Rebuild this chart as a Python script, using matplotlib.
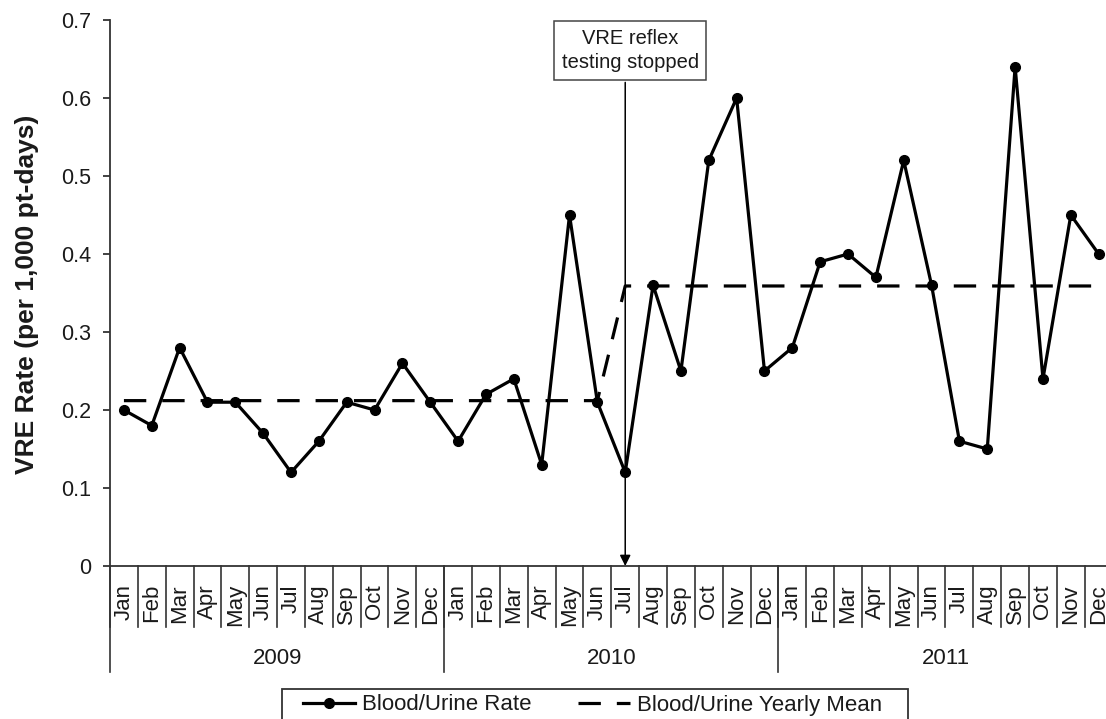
import matplotlib
matplotlib.use("Agg")
import matplotlib.pyplot as plt
from matplotlib.patches import Rectangle
from matplotlib.lines import Line2D
import matplotlib.transforms as mtransforms

plt.rcParams['font.family'] = ['Liberation Sans', 'DejaVu Sans']

months = ["Jan", "Feb", "Mar", "Apr", "May", "Jun",
          "Jul", "Aug", "Sep", "Oct", "Nov", "Dec"]
years = ["2009", "2010", "2011"]
month_labels = months * 3

rate = [0.20, 0.18, 0.28, 0.21, 0.21, 0.17, 0.12, 0.16, 0.21, 0.20, 0.26, 0.21,
        0.16, 0.22, 0.24, 0.13, 0.45, 0.21, 0.12, 0.36, 0.25, 0.52, 0.60, 0.25,
        0.28, 0.39, 0.40, 0.37, 0.52, 0.36, 0.16, 0.15, 0.64, 0.24, 0.45, 0.40]
yearly_mean = [0.212] * 18 + [0.359] * 18
yticks = [0, 0.1, 0.2, 0.3, 0.4, 0.5, 0.6, 0.7]
ytick_labels = ["0", "0.1", "0.2", "0.3", "0.4", "0.5", "0.6", "0.7"]
event_index = 18  # Jul 2010
event_label = "VRE reflex\ntesting stopped"

W, H = 1106, 719
fig = plt.figure(figsize=(W / 100, H / 100), dpi=100)
ax_left, ax_right, ax_bot, ax_top = 110, 1112.6, 566, 20
ax = fig.add_axes([ax_left / W, 1 - ax_bot / H, (ax_right - ax_left) / W, (ax_bot - ax_top) / H])

x = list(range(len(rate)))
ax.plot(x, yearly_mean, color='black', lw=2.3, dashes=(7, 5), zorder=2,
        label='Blood/Urine Yearly Mean')
ax.plot(x, rate, color='black', lw=2.3, marker='o', markersize=7, zorder=3,
        label='Blood/Urine Rate')

ax.set_xlim(-0.5, len(rate) - 0.5)
ax.set_ylim(0, 0.7)
for s in ['top', 'right']:
    ax.spines[s].set_visible(False)
for s in ['left', 'bottom']:
    ax.spines[s].set_linewidth(1.3)
    ax.spines[s].set_color('#333333')

ax.set_yticks(yticks)
ax.set_yticklabels(ytick_labels)
ax.tick_params(axis='y', length=5, width=1.3, color='#333333', pad=8.5,
               labelsize=15.5, labelcolor='#1a1a1a')
ax.set_xticks(x)
ax.set_xticklabels(month_labels, rotation=90)
ax.tick_params(axis='x', length=0, pad=13, labelsize=16, labelcolor='#1a1a1a')

trans = mtransforms.blended_transform_factory(ax.transData, ax.transAxes)
month_sep_depth = -(627 - 566) / (ax_bot - ax_top)
year_sep_depth = -(672 - 566) / (ax_bot - ax_top)
for i in range(len(rate) + 1):
    ax.plot([i - 0.5, i - 0.5], [0, month_sep_depth], transform=trans,
            color='#333333', lw=1.2, clip_on=False)
for k, yr in enumerate(years):
    ax.plot([12 * k - 0.5, 12 * k - 0.5], [0, year_sep_depth], transform=trans,
            color='#333333', lw=1.2, clip_on=False)
    ax.text(12 * k + 5.5, -(658 - 566) / (ax_bot - ax_top), yr, transform=trans,
            ha='center', va='center', fontsize=16, color='#1a1a1a')
ax.plot([35.5, 35.5], [0, year_sep_depth], transform=trans,
        color='#333333', lw=1.2, clip_on=False)

# event arrow (vertical) and label box
ax.annotate("", xy=(event_index, 0), xytext=(event_index, 0.62),
            arrowprops=dict(arrowstyle='-|>', color='black', lw=1.1,
                            shrinkA=0, shrinkB=0, mutation_scale=16),
            zorder=4, annotation_clip=False)
ax.text(event_index + 0.18, 0.661, event_label,
        ha='center', va='center', fontsize=14.5, color='#1a1a1a',
        linespacing=1.35, zorder=5,
        bbox=dict(boxstyle='square,pad=0.38', fc='white', ec='#444444', lw=1.1))

fig.text(27 / W, 1 - 294 / H, "VRE Rate (per 1,000 pt-days)", rotation=90,
         ha='center', va='center', fontsize=19, fontweight='bold', color='#1a1a1a')

# legend
handles = [Line2D([], [], color='black', lw=2.3, marker='o', markersize=7),
           Line2D([], [], color='black', lw=2.3, dashes=(7, 5))]
leg = fig.legend(handles, ['Blood/Urine Rate', 'Blood/Urine Yearly Mean'],
                 loc='center left', bbox_to_anchor=(303 / W, 1 - 705 / H),
                 ncol=2, frameon=False, fontsize=16, handlelength=2.35,
                 handletextpad=0.3, columnspacing=2.1, borderpad=0,
                 borderaxespad=0)
for t in leg.get_texts():
    t.set_color('#1a1a1a')
fig.patches.append(Rectangle((282 / W, -0.05), (908 - 282) / W, (1 - 689 / H) + 0.05,
                             transform=fig.transFigure, fill=False,
                             ec='#333333', lw=1.3))

fig.savefig('out.png', dpi=100)
